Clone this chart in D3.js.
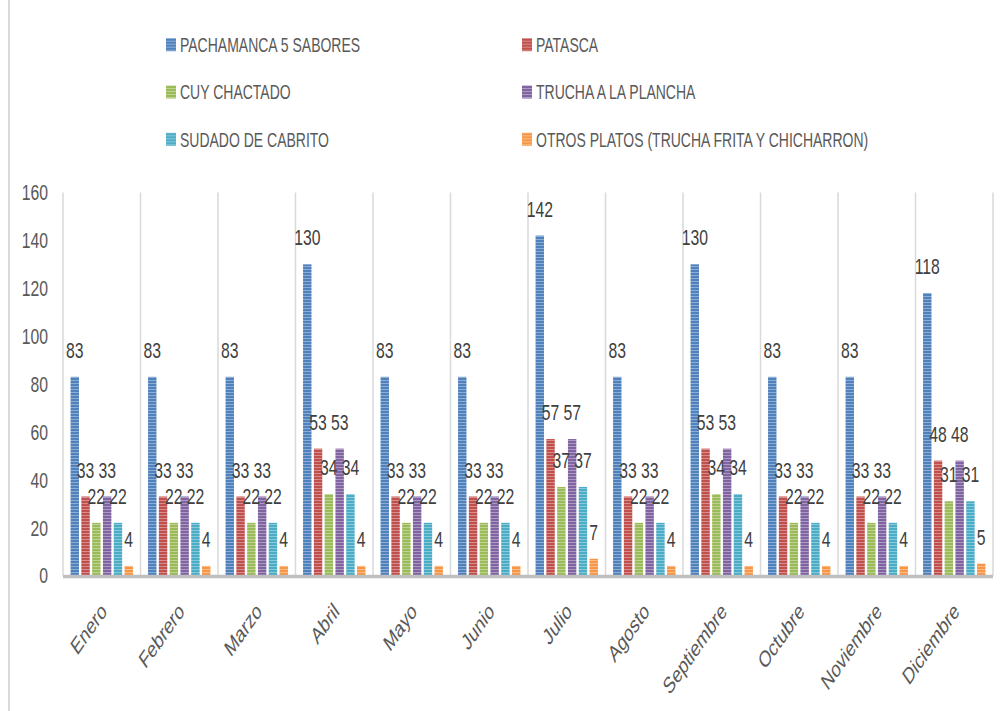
<!DOCTYPE html>
<html>
<head>
<meta charset="utf-8">
<script src="https://d3js.org/d3.v7.min.js"></script>
<style>
  html, body { margin: 0; padding: 0; background: #fff; }
  svg { display: block; }
  text { font-family: "Liberation Sans", Arial, sans-serif; }
</style>
</head>
<body>
<svg id="chart" width="1000" height="711"></svg>
<script>
// ---- Data ----
const months = ["Enero","Febrero","Marzo","Abril","Mayo","Junio","Julio","Agosto","Septiembre","Octubre","Noviembre","Diciembre"];
const seriesNames = ["PACHAMANCA 5 SABORES","PATASCA","CUY CHACTADO","TRUCHA A LA PLANCHA","SUDADO DE CABRITO","OTROS PLATOS (TRUCHA FRITA Y CHICHARRON)"];
const pachamanca = [83,83,83,130,83,83,142,83,130,83,83,118];
const patasca    = [33,33,33,53,33,33,57,33,53,33,33,48];
const cuy        = [22,22,22,34,22,22,37,22,34,22,22,31];
const trucha     = [33,33,33,53,33,33,57,33,53,33,33,48];
const sudado     = [22,22,22,34,22,22,37,22,34,22,22,31];
const otros      = [4,4,4,4,4,4,7,4,4,4,4,5];
const yTicks = [0,20,40,60,80,100,120,140,160];
const colors = ["#4f81bd","#c0504d","#9bbb59","#8064a2","#4bacc6","#f79646"];

const seriesValues = [pachamanca, patasca, cuy, trucha, sudado, otros];

// ---- Layout ----
const SX = 0.7; // horizontal text compression
const svg = d3.select("#chart");
const plot = { left: 63, right: 993, top: 192.5, bottom: 575.5 };

const x0 = d3.scaleBand().domain(months).range([plot.left, plot.right]).paddingInner(0).paddingOuter(0);
const x1 = d3.scaleBand().domain(d3.range(6)).range([0, x0.bandwidth()]).paddingInner(0.22).paddingOuter(0.7);
const y = d3.scaleLinear().domain([0, 160]).range([plot.bottom, plot.top]);

// patterns (horizontal stripes)
const defs = svg.append("defs");
colors.forEach((c, i) => {
  const p = defs.append("pattern").attr("id", "pat" + i)
    .attr("patternUnits", "userSpaceOnUse").attr("width", 6).attr("height", 3);
  p.append("rect").attr("width", 6).attr("height", 3).attr("fill", c);
  p.append("rect").attr("y", 2).attr("width", 6).attr("height", 1)
    .attr("fill", d3.interpolateRgb(c, "#ffffff")(0.35));
});

svg.append("rect").attr("width", 1000).attr("height", 711).attr("fill", "#fff");

// left chart border
svg.append("line").attr("x1", 9).attr("x2", 9).attr("y1", 0).attr("y2", 711)
  .attr("stroke", "#d9d9d9").attr("stroke-width", 2);

// vertical gridlines at category boundaries
const bounds = months.map(m => x0(m)).concat([plot.right]);
svg.append("g").selectAll("line").data(bounds).join("line")
  .attr("x1", d => d).attr("x2", d => d)
  .attr("y1", plot.top).attr("y2", plot.bottom)
  .attr("stroke", "#d9d9d9").attr("stroke-width", 1.5);

// bars
const groups = svg.append("g").selectAll("g").data(months).join("g")
  .attr("transform", m => `translate(${x0(m)},0)`);

groups.selectAll("rect").data((m, mi) => seriesValues.map((s, si) => ({ si, v: s[mi] })))
  .join("rect")
  .attr("x", d => x1(d.si))
  .attr("width", x1.bandwidth())
  .attr("y", d => y(d.v))
  .attr("height", d => y(0) - y(d.v))
  .attr("fill", d => `url(#pat${d.si})`);

// data labels
groups.selectAll("text").data((m, mi) => seriesValues.map((s, si) => ({ si, v: s[mi] })))
  .join("text")
  .attr("transform", d => `translate(${x1(d.si) + x1.bandwidth() / 2},${y(d.v) - 19}) scale(${SX},1)`)
  .attr("text-anchor", "middle")
  .attr("font-size", 22.5)
  .attr("fill", "#404040")
  .text(d => d.v);

// x axis line
svg.append("line").attr("x1", plot.left).attr("x2", plot.right)
  .attr("y1", y(0) + 1).attr("y2", y(0) + 1)
  .attr("stroke", "#bfbfbf").attr("stroke-width", 3.5);

// y tick labels
svg.append("g").selectAll("text").data(yTicks).join("text")
  .attr("transform", d => `translate(48,${y(d)}) scale(${SX},1)`)
  .attr("text-anchor", "end")
  .attr("dy", "0.35em")
  .attr("font-size", 22.5)
  .attr("fill", "#595959")
  .text(d => d);

// x tick labels (rotated -45, then horizontally compressed)
svg.append("g").selectAll("text").data(months).join("text")
  .attr("transform", m => `translate(${x0(m) + x0.bandwidth() / 2 + 2},607) scale(${SX},1) rotate(-45)`)
  .attr("text-anchor", "end")
  .attr("dy", "0.35em")
  .attr("font-size", 23)
  .attr("fill", "#595959")
  .text(m => m);

// legend
const legendPos = [
  { x: 166, y: 44.7 }, { x: 522, y: 44.7 },
  { x: 166, y: 92 },   { x: 522, y: 92 },
  { x: 166, y: 139.3 },{ x: 522, y: 139.3 }
];
const leg = svg.append("g").selectAll("g").data(seriesNames).join("g")
  .attr("transform", (d, i) => `translate(${legendPos[i].x},${legendPos[i].y})`);
leg.append("rect").attr("x", 0).attr("y", -6.5).attr("width", 10).attr("height", 13)
  .attr("fill", (d, i) => `url(#pat${i})`);
leg.append("text")
  .attr("transform", `translate(14,0) scale(${SX},1)`)
  .attr("dy", "0.36em")
  .attr("font-size", 20)
  .attr("fill", "#595959")
  .text(d => d);
</script>
</body>
</html>
